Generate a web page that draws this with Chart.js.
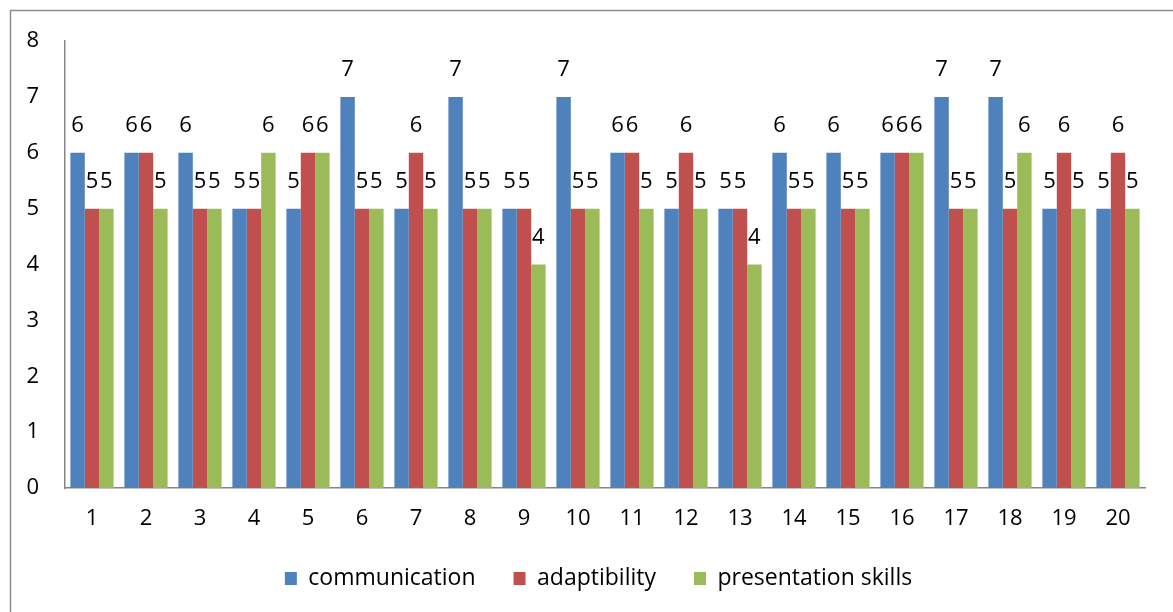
<!DOCTYPE html>
<html>
<head>
<meta charset="utf-8">
<script src="https://cdn.jsdelivr.net/npm/chart.js@4/dist/chart.umd.min.js"></script>
<style>
  body { margin: 0; background: #fff; }
  #wrap { width: 1173px; height: 612px; }
</style>
</head>
<body>
<div id="wrap"><canvas id="chart" width="1173" height="612"></canvas></div>
<script>
// values
const categories = ['1','2','3','4','5','6','7','8','9','10','11','12','13','14','15','16','17','18','19','20'];
const communication = [6, 6, 6, 5, 5, 7, 5, 7, 5, 7, 6, 5, 5, 6, 6, 6, 7, 7, 5, 5];
const adaptibility = [5, 6, 5, 5, 6, 5, 6, 5, 5, 5, 6, 6, 5, 5, 5, 6, 5, 5, 6, 6];
const presentationSkills = [5, 5, 5, 6, 6, 5, 5, 5, 4, 5, 5, 5, 4, 5, 5, 6, 5, 6, 5, 5];
const yTicks = [0, 1, 2, 3, 4, 5, 6, 7, 8];

const FONT = '"Open Sans", Lato, sans-serif';

// outer frame like the spreadsheet chart box
const framePlugin = {
  id: 'frame',
  beforeDraw(chart) {
    const ctx = chart.ctx;
    ctx.save();
    ctx.strokeStyle = '#8c8c8c';
    ctx.lineWidth = 1.5;
    ctx.strokeRect(10.5, 10.5, 1300, 800);
    ctx.restore();
  }
};

// nudge the legend so it sits centred under the whole frame
const legendShift = {
  id: 'legendShift',
  afterLayout(chart) {
    if (chart.legend) {
      chart.legend.left += 26;
      chart.legend.right += 26;
    }
  }
};

// value labels above each bar
const barLabels = {
  id: 'barLabels',
  afterDatasetsDraw(chart) {
    const ctx = chart.ctx;
    ctx.save();
    ctx.font = '22px ' + FONT;
    ctx.fillStyle = '#000';
    ctx.textAlign = 'center';
    ctx.textBaseline = 'middle';
    chart.data.datasets.forEach((ds, i) => {
      chart.getDatasetMeta(i).data.forEach((bar, j) => {
        ctx.fillText(String(ds.data[j]), bar.x, bar.y - 27);
      });
    });
    ctx.restore();
  }
};

new Chart(document.getElementById('chart'), {
  type: 'bar',
  data: {
    labels: categories,
    datasets: [
      { label: 'communication', data: communication, backgroundColor: '#4F81BD' },
      { label: 'adaptibility', data: adaptibility, backgroundColor: '#C0504D' },
      { label: 'presentation skills', data: presentationSkills, backgroundColor: '#9BBB59' }
    ]
  },
  options: {
    responsive: false,
    animation: false,
    layout: { padding: { left: 0, right: 28, top: 41, bottom: 12 } },
    datasets: {
      bar: { barPercentage: 1.0, categoryPercentage: 0.8 }
    },
    scales: {
      x: {
        clip: false,
        grid: { display: false },
        border: { display: true, color: '#868686', width: 1.5 },
        ticks: { color: '#000', font: { size: 22, family: FONT }, padding: 10 },
        afterFit(scale) { scale.height = 41; }
      },
      y: {
        min: 0,
        max: 8,
        afterBuildTicks(scale) { scale.ticks = yTicks.map(v => ({ value: v })); },
        grid: { display: false },
        border: { display: true, color: '#868686', width: 1.5 },
        ticks: { color: '#000', font: { size: 22, family: FONT }, padding: 18 },
        afterFit(scale) { scale.width = 65; }
      }
    },
    plugins: {
      legend: {
        position: 'bottom',
        labels: {
          color: '#000',
          font: { size: 23, family: FONT },
          boxWidth: 12,
          boxHeight: 13,
          padding: 38
        }
      },
      tooltip: { enabled: false }
    }
  },
  plugins: [framePlugin, legendShift, barLabels]
});
</script>
</body>
</html>
